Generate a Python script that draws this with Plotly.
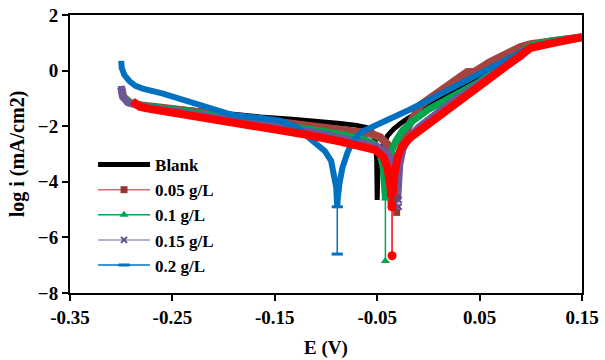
import plotly.graph_objects as go

# ---- data: E (V) vs log i (mA/cm2) ----
blank_E = [-0.300, -0.298, -0.293, -0.285, -0.270, -0.250, -0.220, -0.190, -0.164, -0.130, -0.100,
           -0.086, -0.070, -0.060, -0.055, -0.052, -0.0505, -0.050, -0.0495, -0.048, -0.045, -0.040,
           -0.034, -0.028, -0.020, 0.000, 0.030, 0.060, 0.090, 0.100, 0.120, 0.150]
blank_v = [-0.65, -0.95, -1.12, -1.20, -1.27, -1.35, -1.47, -1.58, -1.67, -1.76, -1.84,
           -1.90, -1.97, -2.05, -2.20, -2.50, -3.20, -4.65, -3.80, -3.20, -2.75, -2.35,
           -2.10, -1.92, -1.72, -1.30, -0.65, 0.00, 0.65, 0.85, 1.00, 1.20]

c005_E = [-0.300, -0.298, -0.292, -0.280, -0.250, -0.220, -0.190, -0.164, -0.130, -0.100,
          -0.086, -0.070, -0.057, -0.047, -0.040, -0.035, -0.032, -0.031, -0.030, -0.028,
          -0.024, -0.018, -0.008, 0.010, 0.025, 0.038, 0.045, 0.060, 0.090, 0.100, 0.120, 0.150]
c005_v = [-0.60, -0.95, -1.15, -1.25, -1.38, -1.52, -1.65, -1.78, -1.92, -2.06,
          -2.15, -2.22, -2.26, -2.40, -2.65, -3.10, -3.90, -4.60, -3.90, -3.00,
          -2.40, -1.90, -1.25, -0.75, -0.35, -0.05, -0.05, 0.30, 0.85, 0.95, 1.05, 1.20]
c005_tailE = [-0.031, -0.031]
c005_tailv = [-4.60, -5.10]

c01_E = [-0.300, -0.298, -0.292, -0.280, -0.250, -0.220, -0.190, -0.164, -0.130, -0.100,
         -0.086, -0.065, -0.052, -0.047, -0.044, -0.0425, -0.042, -0.041, -0.039, -0.036,
         -0.032, -0.025, -0.015, 0.000, 0.050, 0.090, 0.100, 0.120, 0.150]
c01_v = [-0.62, -0.95, -1.15, -1.26, -1.40, -1.55, -1.70, -1.85, -2.02, -2.20,
         -2.30, -2.45, -2.65, -3.00, -3.50, -4.10, -4.60, -4.00, -3.40, -2.90,
         -2.55, -2.15, -1.80, -1.40, -0.40, 0.60, 0.90, 1.08, 1.20]
c01_tailE = [-0.042, -0.042]
c01_tailv = [-4.60, -6.85]

c015_E = [-0.300, -0.299, -0.294, -0.282, -0.250, -0.220, -0.190, -0.164, -0.130, -0.100,
          -0.086, -0.065, -0.050, -0.040, -0.034, -0.031, -0.030, -0.029, -0.028, -0.025,
          -0.020, -0.010, 0.021, 0.050, 0.090, 0.100, 0.120, 0.150]
c015_v = [-0.55, -0.90, -1.15, -1.28, -1.45, -1.60, -1.76, -1.92, -2.10, -2.30,
          -2.40, -2.55, -2.72, -2.95, -3.40, -4.00, -4.65, -4.00, -3.40, -2.85,
          -2.45, -2.05, -1.17, -0.45, 0.50, 0.85, 1.02, 1.20]
c015_tailE = [-0.029, -0.029]
c015_tailv = [-4.65, -4.90]

c02_E = [-0.300, -0.2995, -0.297, -0.292, -0.286, -0.279, -0.260, -0.230, -0.191, -0.160,
         -0.145, -0.130, -0.119, -0.110, -0.101, -0.095, -0.092, -0.090, -0.0895, -0.089,
         -0.0885, -0.087, -0.084, -0.079, -0.074, -0.065, -0.050, -0.028, -0.018, 0.000,
         0.030, 0.060, 0.089, 0.100, 0.120, 0.150]
c02_v = [0.35, 0.10, -0.15, -0.38, -0.55, -0.65, -0.82, -1.15, -1.60, -1.72,
         -1.80, -2.00, -2.35, -2.60, -2.90, -3.25, -3.70, -4.20, -4.60, -4.90,
         -4.60, -4.10, -3.50, -2.95, -2.55, -2.20, -1.95, -1.60, -1.40, -1.06,
         -0.48, 0.10, 0.67, 0.85, 1.00, 1.20]
c02_tailE = [-0.089, -0.089]
c02_tailv = [-4.90, -6.60]

red_E = [-0.289, -0.286, -0.282, -0.275, -0.250, -0.223, -0.190, -0.164, -0.145, -0.120,
         -0.086, -0.065, -0.052, -0.044, -0.040, -0.037, -0.0358, -0.0355, -0.035, -0.033,
         -0.030, -0.026, -0.018, 0.000, 0.030, 0.060, 0.090, 0.095, 0.100, 0.120, 0.150]
red_v = [-1.10, -1.22, -1.30, -1.36, -1.50, -1.67, -1.88, -2.04, -2.14, -2.30,
         -2.55, -2.70, -2.85, -3.10, -3.50, -4.20, -4.90, -5.00, -4.50, -3.70,
         -3.10, -2.75, -2.42, -1.92, -1.09, -0.26, 0.57, 0.72, 0.82, 0.98, 1.20]
red_tailE = [-0.0355, -0.0355]
red_tailv = [-4.90, -6.66]

x_ticks = [-0.35, -0.25, -0.15, -0.05, 0.05, 0.15]
x_ticklabels = ["-0.35", "-0.25", "-0.15", "-0.05", "0.05", "0.15"]
y_ticks = [-8, -6, -4, -2, 0, 2]

FONT = "Liberation Serif"

fig = go.Figure()

# thick bands
bands = [
    ("Blank", blank_E, blank_v, "#000000", 5, True),
    ("0.05 g/L", c005_E, c005_v, "#A5443F", 8, False),
    ("0.1 g/L", c01_E, c01_v, "#00A64F", 7, False),
    ("0.15 g/L", c015_E, c015_v, "#6E569A", 7, False),
    ("0.2 g/L", c02_E, c02_v, "#0070C0", 6, False),
    ("red", red_E, red_v, "#FF0000", 8, False),
]
for name, ex, vy, col, w, leg in bands:
    fig.add_trace(go.Scatter(
        x=ex, y=vy, mode="lines", name=name,
        line=dict(color=col, width=w),
        showlegend=leg, legendrank=1 if leg else 100,
        hoverinfo="skip"))

# thin tails down to the minimum points (also legend entries)
tails = [
    ("0.05 g/L", c005_tailE, c005_tailv, "#D96B6B", "square", "#943634", 7, 0.0, 2, True),
    ("0.1 g/L", c01_tailE, c01_tailv, "#00A64F", "triangle-up", "#00A64F", 8, 0.0, 3, True),
    ("0.15 g/L", c015_tailE, c015_tailv, "#A593C4", "x-thin", "#5F4A8B", 6, 2.0, 4, True),
    ("0.2 g/L", c02_tailE, c02_tailv, "#0070C0", "line-ew", "#0070C0", 8, 3.0, 5, True),
    ("red", red_tailE, red_tailv, "#FF0000", "circle", "#FF0000", 9, 0.0, 100, False),
]
for name, ex, vy, lcol, sym, mcol, ms, mlw, rank, leg in tails:
    fig.add_trace(go.Scatter(
        x=ex, y=vy, mode="lines+markers", name=name,
        line=dict(color=lcol, width=1.5),
        marker=dict(symbol=sym, color=mcol, size=ms,
                    line=dict(color=mcol, width=mlw)),
        showlegend=leg, legendrank=rank, hoverinfo="skip"))

fig.update_layout(
    width=605, height=360,
    margin=dict(l=70, r=23, t=15, b=67),
    paper_bgcolor="white", plot_bgcolor="white",
    font=dict(family=FONT, size=19, color="black"),
    showlegend=True,
    legend=dict(x=0.045, y=0.525, xanchor="left", yanchor="top",
                bgcolor="rgba(0,0,0,0)", borderwidth=0,
                font=dict(family=FONT, size=17, color="black", weight="bold"),
                itemwidth=52, tracegroupgap=0),
    xaxis=dict(range=[-0.35, 0.15], tickvals=x_ticks, ticktext=x_ticklabels,
               automargin=False,
               showline=True, linecolor="black", linewidth=2, mirror=True,
               ticks="outside", ticklen=6, tickwidth=2, tickcolor="black",
               showgrid=False, zeroline=False,
               tickfont=dict(family=FONT, size=19, weight="bold"),
               title=dict(text="E (V)", font=dict(family=FONT, size=19, weight="bold"), standoff=14)),
    yaxis=dict(range=[-8, 2], tickvals=y_ticks,
               automargin=False,
               showline=True, linecolor="black", linewidth=2, mirror=True,
               ticks="outside", ticklen=6, tickwidth=2, tickcolor="black",
               showgrid=False, zeroline=False,
               tickfont=dict(family=FONT, size=19, weight="bold"),
               title=dict(text="log i (mA/cm2)", font=dict(family=FONT, size=20, weight="bold"), standoff=8)),
)

fig.write_html("out.html")
